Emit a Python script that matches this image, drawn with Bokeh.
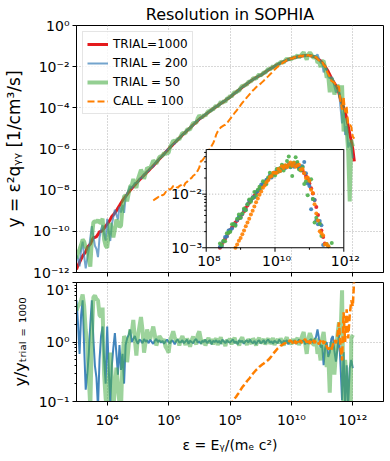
import math
from bokeh.plotting import figure
from bokeh.models import (Range1d, FixedTicker, CustomJSTickFormatter, Legend,
                          LegendItem, LogScale)
from bokeh.layouts import column
from bokeh.embed import file_html
from bokeh.resources import INLINE
from bokeh.core.properties import value

# ---------------- data (log10 values) ----------------
LOG_E_START = 3.0      # log10(eps) of the first sample
LOG_E_STEP = 0.05      # sample spacing in decades

# TRIAL=1000 : log10(y)
RED_LOG_Y = [
    -11.85, -11.65, -11.50, -11.35, -11.20, -11.10, -11.00, -10.78, -10.70, -10.62,
    -10.45, -10.30, -10.30, -10.26, -10.15, -10.02, -10.00, -9.96, -9.85, -9.75,
    -9.65, -9.55, -9.42, -9.28, -9.20, -9.10, -9.00, -8.87, -8.75, -8.62,
    -8.50, -8.40, -8.30, -8.20, -8.10, -8.01, -7.92, -7.83, -7.75, -7.66,
    -7.58, -7.50, -7.43, -7.35, -7.27, -7.20, -7.12, -7.05, -6.97, -6.90,
    -6.82, -6.74, -6.66, -6.57, -6.49, -6.41, -6.33, -6.25, -6.16, -6.08,
    -6.00, -5.92, -5.85, -5.77, -5.70, -5.62, -5.55, -5.47, -5.40, -5.32,
    -5.25, -5.18, -5.11, -5.04, -4.97, -4.90, -4.83, -4.76, -4.69, -4.62,
    -4.55, -4.49, -4.44, -4.38, -4.33, -4.27, -4.22, -4.16, -4.11, -4.05,
    -4.00, -3.95, -3.90, -3.84, -3.79, -3.74, -3.69, -3.64, -3.58, -3.53,
    -3.48, -3.42, -3.36, -3.30, -3.24, -3.18, -3.12, -3.06, -3.00, -2.94,
    -2.89, -2.83, -2.78, -2.72, -2.67, -2.62, -2.58, -2.53, -2.49, -2.45,
    -2.42, -2.37, -2.32, -2.26, -2.21, -2.16, -2.11, -2.07, -2.03, -1.98,
    -1.94, -1.90, -1.86, -1.82, -1.79, -1.75, -1.72, -1.68, -1.65, -1.63,
    -1.61, -1.58, -1.56, -1.54, -1.52, -1.51, -1.49, -1.48, -1.47, -1.46,
    -1.46, -1.46, -1.46, -1.48, -1.50, -1.52, -1.56, -1.61, -1.66, -1.71,
    -1.80, -1.89, -1.99, -2.11, -2.24, -2.39, -2.55, -2.68, -2.80, -2.92,
    -3.05, -3.30, -3.60, -3.78, -3.95, -4.22, -4.50, -4.88, -5.25, -5.62,
    -6.00, -6.60,
]

NAN = float("nan")

# TRIAL = 200 : log10(y / y_TRIAL=1000)
BLUE_LOG_RATIO = [
    0.70, 0.30, -0.20, 0.45, 0.70, -0.10, -0.80, -0.55, -0.20, 0.30,
    0.70, 0.05, -0.40, -0.60, -1.10, -0.30, 0.10, 0.26, -0.30, -0.70,
    0.26, -0.45, -1.05, -0.40, -0.10, 0.15, -0.20, -0.55, -0.05, -0.47,
    -0.20, -0.70, -0.05, 0.06, 0.12, 0.21, 0.00, 0.05, 0.10, 0.02,
    -0.03,
    0.04, 0.02, -0.02, 0.05, 0.01, 0.03, -0.02, 0.04, 0.00, -0.03,
    0.02, 0.05, 0.00, 0.03, -0.01, 0.02, -0.03, 0.01, 0.04, 0.00,
    -0.02, 0.03, 0.01, -0.04, 0.02, 0.04, -0.01, 0.00, 0.03, -0.02,
    0.01, 0.04, -0.03, 0.02, 0.00, -0.02, 0.03, 0.05, -0.01, 0.01,
    -0.03, 0.02, 0.00, 0.04, -0.02, 0.01, 0.03, -0.04, 0.02, 0.00,
    0.03, -0.01, 0.02, -0.03, 0.04, 0.01, -0.02, 0.03, 0.00, -0.01,
    0.02, 0.04, -0.02, 0.01, -0.04, 0.03, 0.00, 0.02, -0.03, 0.01,
    0.03, -0.01, 0.04, 0.00, -0.02, 0.02, -0.04, 0.01, 0.03, -0.02,
    0.00, 0.03, -0.03, 0.02, 0.04, -0.01, 0.01, -0.03, 0.02, 0.00,
    -0.02, 0.04, 0.01, -0.03, 0.02, 0.00, 0.03, -0.04, 0.01, 0.02,
    -0.01, 0.03, -0.03, 0.00, 0.04, -0.02, 0.01, 0.03, -0.04,
    0.02, -0.03, 0.03, 0.05, -0.02, 0.04, 0.08, 0.21, 0.05, -0.09,
    -0.05, -0.39, -0.10, 0.00, -0.25, -0.17, 0.05, 0.10, -0.15, -0.33,
    -0.11, 0.12, -0.39, -0.98, -0.17, -1.10, -0.39, -1.05, -0.44, -0.30,
    -0.44, NAN,
]

# TRIAL = 50 : log10(y / y_TRIAL=1000)
GREEN_LOG_RATIO = [
    0.53, 0.60, 0.63, 0.70, 0.80, 0.60, 0.20, 0.00, -0.60, -1.10,
    0.10, 0.75, 0.78, 0.72, 0.70, 0.45, 0.42, 0.58, -0.55, -0.95,
    -1.15, -0.60, -0.18, -0.60, -1.10, -0.80, -0.43, -0.70, -1.05, -1.10,
    -0.30, 0.10, 0.05, -0.34, -0.05, 0.21, 0.15, 0.37, 0.05, -0.23,
    0.10,
    0.26, 0.42, 0.20, -0.18, 0.00, 0.21, 0.10, 0.05, 0.15, 0.26,
    0.12, -0.06, 0.02, 0.10, 0.06, 0.00, 0.05, -0.08, -0.12, -0.18,
    0.02, 0.10, 0.18, 0.08, 0.00, 0.05, -0.06, 0.04, 0.10, 0.02,
    -0.05, 0.06, 0.00, -0.08, 0.03, 0.09, 0.02, -0.04, 0.12, 0.18,
    0.05, -0.03, 0.04, -0.06, 0.02, 0.07, -0.02, 0.05, -0.04, 0.03,
    0.06, -0.05, 0.01, 0.08, -0.03, 0.02, -0.07, 0.04, 0.00, 0.06,
    -0.04, 0.03, 0.07, -0.02, 0.01, -0.06, 0.04, 0.08, -0.01, 0.02,
    -0.05, 0.05, 0.00, -0.03, 0.06, 0.02, -0.06, 0.03, 0.07, -0.02,
    0.01, 0.05, -0.04, 0.02, 0.06, -0.03, 0.00, 0.07, -0.05, 0.02,
    0.04, -0.02, 0.06, 0.01, -0.06, 0.03, 0.08, -0.01, 0.02, -0.04,
    0.05, -0.02, 0.03, 0.07, -0.05, 0.02, 0.10, 0.17, -0.03,
    -0.20, 0.05, 0.15, 0.08, -0.04, -0.04, 0.06, -0.20, -0.10, -0.31,
    0.05, 0.17, -0.10, -0.42, -0.20, -0.85, 0.00, -0.10, -0.55, -0.20,
    0.12, 0.33, 0.10, 0.87, -1.20, -0.30, -0.60, -1.20, -3.30, 0.06,
    0.12, NAN,
]

# CALL = 100 : log10(y / y_TRIAL=1000), starting at log10(eps) = 5.5
ORANGE_START = 5.5
ORANGE_LOG_RATIO = [
    -1.68, -1.71, -1.74, -1.78, -1.79, -1.81, -1.92, -1.96, -1.94, -1.92,
    -1.95, -2.05, -2.05, -2.03, -2.08, -2.23, -2.33, -2.33, -2.35, -2.53,
    -2.55, -2.47, -2.49, -2.46, -2.48, -2.50, -2.47, -2.49, -2.46, -2.43,
    -2.35, -2.11, -2.11, -2.07, -2.02, -2.03, -1.83, -1.84, -1.74, -1.67,
    -1.55, -1.35, -1.25, -1.21, -1.16, -1.16, -1.16, -1.18, -1.17, -1.12,
    -1.07, -1.03, -0.99, -0.95, -0.92, -0.88, -0.85, -0.80, -0.76, -0.73,
    -0.70, -0.66, -0.63, -0.60, -0.56, -0.53, -0.50, -0.47, -0.45, -0.42,
    -0.40, -0.38, -0.36, -0.34, -0.32, -0.30, -0.27, -0.24, -0.20, -0.17,
    -0.14, -0.11, -0.09, -0.06, -0.05, -0.03, -0.02, 0.00, -0.01, 0.03,
    0.01, -0.02, 0.03, -0.03, 0.04, 0.00, 0.03, -0.02, 0.02, 0.05,
    -0.01, 0.04, -0.03, 0.02, 0.05, -0.02, 0.03, 0.00, -0.04, 0.02,
    0.05, -0.03, 0.01, -0.08, -0.12, -0.10, -0.14, -0.05, 0.03, -0.02,
    0.12, 0.33, -0.10, -0.31, 0.50, 0.00, 0.55, 0.06, 0.45, 0.70,
    0.60, 1.10,
]

SERIES = ["TRIAL=1000", "TRIAL = 200", "TRIAL = 50", "CALL = 100"]
COLORS = ["#e41a1c", "#377eb8", "#4daf4a", "#ff7f00"]
X_TICKS = [1e4, 1e6, 1e8, 1e10, 1e12]
Y_TICKS_MAIN = [1e-12, 1e-10, 1e-8, 1e-6, 1e-4, 1e-2, 1e0]
Y_TICKS_RATIO = [0.1, 1.0, 10.0]
Y_MINOR_RATIO = [0.2, 0.3, 0.4, 0.5, 0.6, 0.7, 0.8, 0.9, 2, 3, 4, 5, 6, 7, 8, 9]
INSET_X_LABELS = ["10\u2078", "10\u00b9\u2070", "10\u00b9\u00b2"]
INSET_X_TICKS = [1e8, 1e10, 1e12]
INSET_X_MINOR = [1e9, 1e11]
INSET_Y_LABELS = ["10\u207b\u00b2", "10\u207b\u00b3"]
INSET_Y_TICKS = [1e-2, 1e-3]
INSET_Y_MINOR = [2e-3, 3e-3, 4e-3, 5e-3, 6e-3, 7e-3, 8e-3, 9e-3,
                 2e-2, 3e-2, 4e-2, 5e-2, 6e-2]

# ---------------- derived series ----------------
n = len(RED_LOG_Y)
log_e = [LOG_E_START + LOG_E_STEP * i for i in range(n)]
eps = [10 ** v for v in log_e]
k0 = int(round((ORANGE_START - LOG_E_START) / LOG_E_STEP))
orange_full = [NAN] * k0 + ORANGE_LOG_RATIO
orange_full = (orange_full + [NAN] * n)[:n]


def lin(v):
    return NAN if v != v else 10 ** v


ratio_logs = [[0.0] * n, BLUE_LOG_RATIO[:n], GREEN_LOG_RATIO[:n], orange_full]
main_logs = [[RED_LOG_Y[i] + r[i] for i in range(n)] for r in ratio_logs]
main_vals = [[lin(v) for v in s] for s in main_logs]
ratio_vals = [[lin(v) for v in s] for s in ratio_logs]

SUP_JS = """
const sup = {"-": "\u207b", "0": "\u2070", "1": "\u00b9", "2": "\u00b2", "3": "\u00b3",
             "4": "\u2074", "5": "\u2075", "6": "\u2076", "7": "\u2077", "8": "\u2078", "9": "\u2079"};
const e = Math.round(Math.log10(tick));
let s = "";
for (const c of String(e)) { s += sup[c]; }
return "10" + s;
"""

FONT = "DejaVu Sans"
GRID_COLOR = "#b0b0b0"


def style_axes(p):
    for ax in p.axis:
        ax.major_label_text_font = FONT
        ax.major_label_text_font_size = "14px"
        ax.major_label_text_color = "black"
        ax.axis_label_text_font = FONT
        ax.axis_label_text_font_style = "normal"
        ax.axis_label_text_color = "black"
        ax.major_tick_out = 4
        ax.major_tick_in = 0
        ax.minor_tick_out = 2
        ax.minor_tick_in = 0
        ax.major_tick_line_color = "black"
        ax.minor_tick_line_color = "black"
        ax.axis_line_color = "black"
        ax.major_label_standoff = 3
    p.outline_line_color = "black"
    p.outline_line_alpha = 1
    p.outline_line_width = 1
    for g in p.grid:
        g.grid_line_color = GRID_COLOR
        g.grid_line_dash = "1 2"
        g.grid_line_width = 1
    p.background_fill_color = "white"
    p.border_fill_color = "white"


# ---------------- main panel ----------------
p1 = figure(width=390, height=281, x_axis_type="log", y_axis_type="log",
            x_range=Range1d(1e3, 1e13), y_range=Range1d(1e-12, 1.0),
            output_backend="svg", toolbar_location=None,
            title="Resolution in SOPHIA",
            min_border_left=76, min_border_right=7, min_border_top=25,
            min_border_bottom=9)
p1.title.text_font = FONT
p1.title.text_font_size = "16px"
p1.title.text_font_style = "normal"
p1.title.text_color = "black"
p1.title.align = "center"
p1.title.standoff = 4

p1.xaxis.ticker = FixedTicker(ticks=X_TICKS, minor_ticks=[])
p1.xaxis.formatter = CustomJSTickFormatter(code="return '';")
p1.yaxis.ticker = FixedTicker(ticks=Y_TICKS_MAIN, minor_ticks=[])
p1.yaxis.formatter = CustomJSTickFormatter(code=SUP_JS)
p1.yaxis.axis_label = "y = \u03b5\u00b2q\u1d67\u1d67 [1/cm\u00b3/s]"
p1.yaxis.axis_label_text_font_size = "17px"
p1.yaxis.axis_label_standoff = 6
style_axes(p1)
p1.xaxis.major_label_standoff = 0

line_styles = [
    dict(line_width=3, line_alpha=1.0),
    dict(line_width=2, line_alpha=0.7),
    dict(line_width=4, line_alpha=0.6),
    dict(line_width=2, line_alpha=1.0, line_dash="7 3"),
]
main_renderers = []
for vals, col, st in zip(main_vals, COLORS, line_styles):
    r = p1.line(eps, vals, color=col, **st)
    main_renderers.append(r)

# ---------------- inset (drawn inside the main frame through extra ranges) ----
FX0, FX1 = 0.4225, 0.8707     # inset position as fractions of the frame
FY0, FY1 = 0.1002, 0.4978
IX_LO, IX_HI = 8.0, 12.0       # inset axis range, log10
IY_LO, IY_HI = -3.0, -1.168
sx = (IX_HI - IX_LO) / (FX1 - FX0)
ix0 = IX_LO - FX0 * sx
sy = (IY_HI - IY_LO) / (FY1 - FY0)
iy0 = IY_LO - FY0 * sy
p1.extra_x_ranges = {"ix": Range1d(10 ** ix0, 10 ** (ix0 + sx))}
p1.extra_y_ranges = {"iy": Range1d(10 ** iy0, 10 ** (iy0 + sy))}
p1.extra_x_scales = {"ix": LogScale()}
p1.extra_y_scales = {"iy": LogScale()}
IN = dict(x_range_name="ix", y_range_name="iy")
PX_PER_DEC_X = 307 * (FX1 - FX0) / (IX_HI - IX_LO)   # ~34 px per decade

p1.quad(left=[10 ** IX_LO], right=[10 ** IX_HI], bottom=[10 ** IY_LO],
        top=[10 ** IY_HI], fill_color="white", line_color=None, **IN)
p1.segment(x0=[1e10, 10 ** IX_LO], y0=[10 ** IY_LO, 1e-2],
           x1=[1e10, 10 ** IX_HI], y1=[10 ** IY_HI, 1e-2],
           line_color=GRID_COLOR, line_dash="1 2", line_width=1, **IN)
for s_log, col in zip(main_logs, COLORS):
    xs, ys = [], []
    for le, v in zip(log_e, s_log):
        if v == v and IX_LO <= le <= IX_HI and IY_LO <= v <= IY_HI:
            xs.append(10 ** le)
            ys.append(10 ** v)
    p1.scatter(xs, ys, size=4, fill_color=col, line_color=None,
               fill_alpha=0.9, **IN)
p1.quad(left=[10 ** IX_LO], right=[10 ** IX_HI], bottom=[10 ** IY_LO],
        top=[10 ** IY_HI], fill_color=None, line_color="black", line_width=1, **IN)
# inset ticks
p1.ray(x=INSET_X_TICKS, y=[10 ** IY_LO] * 3, length=4, length_units="screen",
       angle=-math.pi / 2, line_color="black", line_width=1, **IN)
p1.ray(x=INSET_X_MINOR, y=[10 ** IY_LO] * 2, length=2, length_units="screen",
       angle=-math.pi / 2, line_color="black", line_width=1, **IN)
p1.ray(x=[10 ** IX_LO] * 2, y=INSET_Y_TICKS, length=4, length_units="screen",
       angle=math.pi, line_color="black", line_width=1, **IN)
p1.ray(x=[10 ** IX_LO] * len(INSET_Y_MINOR), y=INSET_Y_MINOR, length=2,
       length_units="screen", angle=math.pi, line_color="black", line_width=1, **IN)
# inset tick labels, left-aligned at explicit positions
x_lab_width_px = [18, 26, 26]
x_lab_left = [10 ** (math.log10(t) - (w / 2) / PX_PER_DEC_X)
              for t, w in zip(INSET_X_TICKS, x_lab_width_px)]
p1.text(x=x_lab_left, y=[10 ** IY_LO] * 3, text=INSET_X_LABELS,
        text_align="left", text_baseline="top", y_offset=5,
        text_font=value(FONT), text_font_size="14px", text_color="black", **IN)
y_lab_left = 10 ** (IX_LO - 35 / PX_PER_DEC_X)
p1.text(x=[y_lab_left] * 2, y=INSET_Y_TICKS, text=INSET_Y_LABELS,
        text_align="left", text_baseline="middle",
        text_font=value(FONT), text_font_size="14px", text_color="black", **IN)

legend = Legend(items=[LegendItem(label=lab, renderers=[r])
                       for lab, r in zip(SERIES, main_renderers)],
                location="top_left")
legend.label_text_font = FONT
legend.label_text_font_size = "12px"
legend.label_text_color = "black"
legend.glyph_width = 21
legend.glyph_height = 16
legend.label_height = 16
legend.spacing = 3
legend.padding = 4
legend.margin = 6
legend.label_standoff = 5
legend.border_line_color = "#cccccc"
legend.border_line_width = 1
legend.background_fill_alpha = 0.8
p1.add_layout(legend)

# ---------------- ratio panel ----------------
p2 = figure(width=390, height=174, x_axis_type="log", y_axis_type="log",
            x_range=p1.x_range, y_range=Range1d(0.1, 10.0),
            output_backend="svg", toolbar_location=None,
            min_border_left=76, min_border_right=7, min_border_top=1,
            min_border_bottom=49)
p2.xaxis.ticker = FixedTicker(ticks=X_TICKS, minor_ticks=[])
p2.xaxis.formatter = CustomJSTickFormatter(code=SUP_JS)
p2.xaxis.axis_label = "\u03b5 = E\u1d67/(m\u2091 c\u00b2)"
p2.xaxis.axis_label_text_font_size = "14px"
p2.xaxis.axis_label_standoff = 6
p2.yaxis.ticker = FixedTicker(ticks=Y_TICKS_RATIO, minor_ticks=Y_MINOR_RATIO)
p2.yaxis.formatter = CustomJSTickFormatter(code=SUP_JS)
p2.yaxis.axis_label = "y/y\u209c\u1d63\u1d62\u2090\u2097 \u208c \u2081\u2080\u2080\u2080"
p2.yaxis.axis_label_text_font_size = "16px"
p2.yaxis.axis_label_standoff = 6
style_axes(p2)
p2.xaxis.major_label_standoff = 6
p2.ygrid.ticker = FixedTicker(ticks=[1.0], minor_ticks=[])

ratio_styles = [
    dict(line_width=2, line_alpha=0.95),
    dict(line_width=4, line_alpha=0.55),
    dict(line_width=2.5, line_alpha=1.0, line_dash="7 3"),
]
for vals, col, st in zip(ratio_vals[1:], COLORS[1:], ratio_styles):
    p2.line(eps, vals, color=col, **st)

layout = column(p1, p2, spacing=0)
open("out.html", "w").write(file_html(layout, INLINE))
